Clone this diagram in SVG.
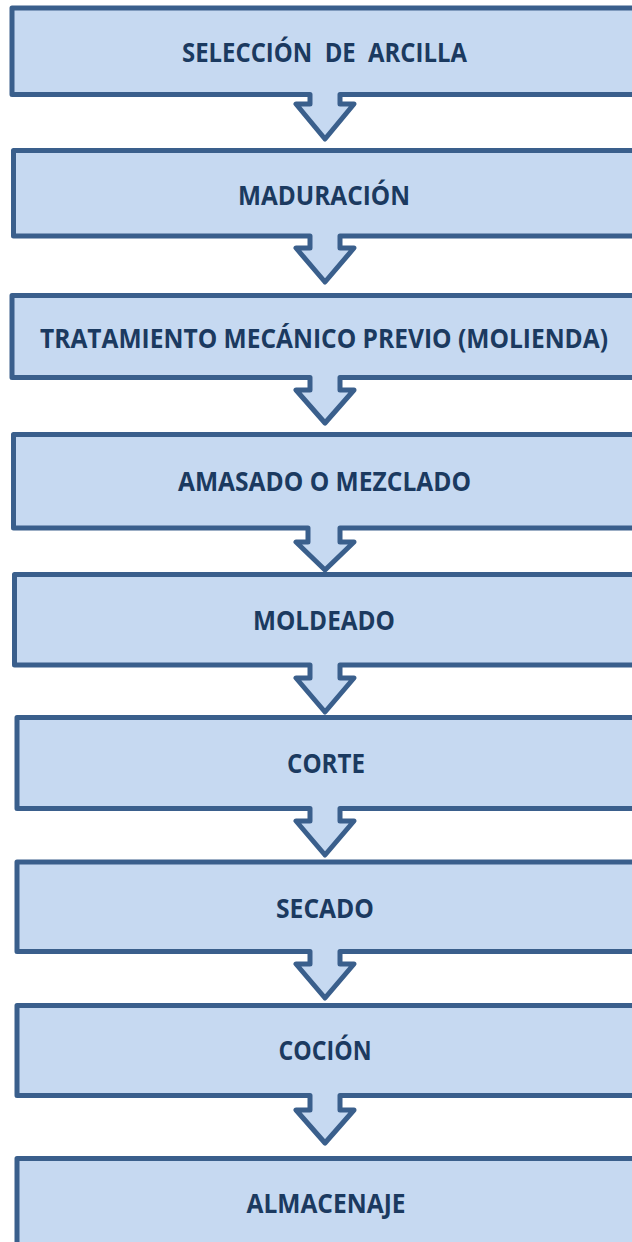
<svg xmlns="http://www.w3.org/2000/svg" width="632" height="1242" viewBox="0 0 632 1242">
<style>
.box{fill:#c6d9f1;stroke:#3a5f8c;stroke-width:5;stroke-linejoin:round}
.lbl{font-family:"Open Sans","Liberation Sans",sans-serif;font-weight:bold;font-size:27px;fill:#1b3a60;text-anchor:middle}
</style>
<rect width="632" height="1242" fill="#ffffff"/>
<g id="connectors"></g>
<g id="n9"><path class="box" d="M17,1158.5 H645 V1260 H17 Z"/><text class="lbl" x="326" y="1213" textLength="159" lengthAdjust="spacingAndGlyphs">ALMACENAJE</text></g>
<g id="n8"><path class="box" d="M17,1005.5 H645 V1095.5 H340 V1110 H354 L325,1143 L296,1110 H310 V1095.5 H17 Z"/><text class="lbl" x="325" y="1060" textLength="93" lengthAdjust="spacingAndGlyphs">COCIÓN</text></g>
<g id="n7"><path class="box" d="M17,862 H645 V951.5 H340 V964 H354 L325,998 L296,964 H310 V951.5 H17 Z"/><text class="lbl" x="325" y="918" textLength="98" lengthAdjust="spacingAndGlyphs">SECADO</text></g>
<g id="n6"><path class="box" d="M17,717.5 H645 V808.5 H340 V821 H354 L325,855 L296,821 H310 V808.5 H17 Z"/><text class="lbl" x="326" y="773" textLength="78" lengthAdjust="spacingAndGlyphs">CORTE</text></g>
<g id="n5"><path class="box" d="M14.5,574.5 H645 V665 H340 V678 H354 L325,712 L296,678 H310 V665 H14.5 Z"/><text class="lbl" x="324" y="630" textLength="142" lengthAdjust="spacingAndGlyphs">MOLDEADO</text></g>
<g id="n4"><path class="box" d="M13.5,434.5 H645 V528 H340 V542 H354 L325,570 L296,542 H308 V528 H13.5 Z"/><text class="lbl" x="324.5" y="491" textLength="293" lengthAdjust="spacingAndGlyphs">AMASADO O MEZCLADO</text></g>
<g id="n3"><path class="box" d="M12,295.5 H645 V377.5 H340 V390 H354 L325,423 L296,390 H310 V377.5 H12 Z"/><text class="lbl" x="324" y="348" textLength="568" lengthAdjust="spacingAndGlyphs">TRATAMIENTO MECÁNICO PREVIO (MOLIENDA)</text></g>
<g id="n2"><path class="box" d="M13.5,150.5 H645 V236 H340 V248 H354 L325,282 L296,248 H310 V236 H13.5 Z"/><text class="lbl" x="324" y="205" textLength="172" lengthAdjust="spacingAndGlyphs">MADURACIÓN</text></g>
<g id="n1"><path class="box" d="M12,8 H645 V94.5 H340 V104 H354 L325,139 L296,104 H310 V94.5 H12 Z"/><text class="lbl" x="324.5" y="62" textLength="285" lengthAdjust="spacingAndGlyphs" xml:space="preserve">SELECCIÓN  DE  ARCILLA</text></g>
</svg>
